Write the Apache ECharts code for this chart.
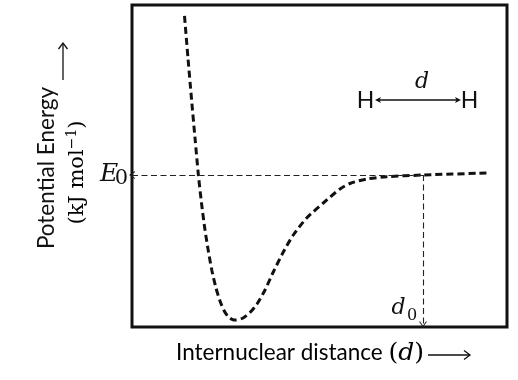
<!DOCTYPE html>
<html>
<head>
<meta charset="utf-8">
<script src="https://cdn.jsdelivr.net/npm/echarts@6/dist/echarts.min.js"></script>
<style>html,body{margin:0;padding:0;background:#fff;}#c{width:518px;height:380px;}</style>
</head>
<body>
<div id="c"></div>
<script>
// Internuclear distance (arbitrary units) and potential energy (arbitrary units)
const distance = [14.0, 14.93, 15.87, 16.8, 17.68, 18.53, 19.47, 20.4, 21.33, 22.4, 23.47, 24.53, 25.6, 26.67, 27.73, 29.6, 31.47, 33.33, 35.47, 37.68, 40.35, 43.01, 46.59, 51.01, 55.47, 58.13, 62.59, 67.92, 77.6, 94.67];
const energy   = [96.6, 83.5, 70.8, 58.7, 47.5, 38.5, 30.1, 23.3, 17.4, 12.1, 8.07, 5.12, 3.26, 2.39, 2.17, 2.8, 4.5, 7.14, 11.5, 17.08, 23.29, 28.57, 33.85, 38.51, 42.86, 44.57, 45.96, 46.68, 47.2, 47.83];
const E0 = 47.2;
const d0 = 77.6;
const xLabel = 'Internuclear distance ';
const yLabel = 'Potential Energy';
const yUnit = ['(kJ mol', '\u22121', ')'];

const curve = distance.map((d, i) => [d, energy[i]]);
const chevron = 'path://M0,10 L5,0 L10,10 L8.6,10 L5,2.6 L1.4,10 Z';

const SANS = 'Lato';
const SERIF = 'DejaVu Serif';

const chart = echarts.init(document.getElementById('c'), null, {renderer: 'canvas'});
chart.setOption({
  animation: false,
  backgroundColor: '#fff',
  grid: {left: 132, right: 11, top: 5, bottom: 53, show: true, borderColor: '#111', borderWidth: 3, backgroundColor: 'transparent'},
  xAxis: {type: 'value', min: 0, max: 100, axisLine: {show: false}, axisTick: {show: false}, axisLabel: {show: false}, splitLine: {show: false}},
  yAxis: {type: 'value', min: 0, max: 100, axisLine: {show: false}, axisTick: {show: false}, axisLabel: {show: false}, splitLine: {show: false}},
  series: [{
    type: 'line',
    data: curve,
    smooth: 0.25,
    symbol: 'none',
    lineStyle: {color: '#111', width: 3, type: [7, 4]},
    markLine: {
      silent: true,
      symbol: ['none', chevron],
      symbolSize: [8, 6],
      label: {show: false},
      lineStyle: {color: '#222', width: 1.1, type: [6, 3.5]},
      data: [
        [{coord: [d0, E0]}, {coord: [0, E0]}],
        [{coord: [d0, E0]}, {coord: [d0, 0.8]}]
      ]
    }
  }],
  graphic: [
    // E0 label
    {type: 'text', x: 109, y: 174, style: {text: 'E', font: 'italic 25px "' + SERIF + '"', fill: '#111', align: 'center', verticalAlign: 'middle'}},
    {type: 'text', x: 121.5, y: 178.5, style: {text: '0', font: '21px "' + SERIF + '"', fill: '#111', align: 'center', verticalAlign: 'middle'}},
    // d0 label
    {type: 'text', x: 398.5, y: 308, style: {text: 'd', font: 'italic 22px "' + SERIF + '"', fill: '#111', align: 'center', verticalAlign: 'middle'}},
    {type: 'text', x: 412, y: 316, style: {text: '0', font: '16px "' + SERIF + '"', fill: '#111', align: 'center', verticalAlign: 'middle'}},
    // H <-> H
    {type: 'text', x: 365.5, y: 100.5, style: {text: 'H', font: '23px "' + SANS + '"', fill: '#111', align: 'center', verticalAlign: 'middle'}},
    {type: 'text', x: 469.5, y: 100.5, style: {text: 'H', font: '23px "' + SANS + '"', fill: '#111', align: 'center', verticalAlign: 'middle'}},
    {type: 'text', x: 422, y: 82, style: {text: 'd', font: 'italic 22px "' + SERIF + '"', fill: '#111', align: 'center', verticalAlign: 'middle'}},
    {type: 'line', shape: {x1: 377, y1: 100, x2: 459, y2: 100}, style: {stroke: '#111', lineWidth: 1.3}},
    {type: 'polygon', shape: {points: [[375, 100], [381, 97], [379.5, 100], [381, 103]]}, style: {fill: '#111'}},
    {type: 'polygon', shape: {points: [[461, 100], [455, 97], [456.5, 100], [455, 103]]}, style: {fill: '#111'}},
    // x axis title
    {type: 'text', x: 176, y: 353, style: {
      text: '{a|' + xLabel + '}{p|(}{i|d}{p|)}',
      align: 'left', verticalAlign: 'middle',
      rich: {
        a: {fontFamily: SANS, fontSize: 22.5, color: '#111', lineHeight: 28},
        p: {fontFamily: SERIF, fontSize: 25, color: '#111', lineHeight: 28},
        i: {fontFamily: SERIF, fontSize: 25, fontStyle: 'italic', color: '#111', lineHeight: 28}
      }
    }},
    {type: 'line', shape: {x1: 428, y1: 355, x2: 470, y2: 355}, style: {stroke: '#111', lineWidth: 1.3}},
    {type: 'polyline', shape: {points: [[464, 350.5], [470, 355], [464, 359.5]]}, style: {stroke: '#111', lineWidth: 1.3, fill: null}},
    // y axis title
    {type: 'text', x: 47, y: 168, rotation: Math.PI / 2, style: {text: yLabel, font: '22.5px "' + SANS + '"', fill: '#111', align: 'center', verticalAlign: 'middle'}},
    {type: 'text', x: 78, y: 172.5, rotation: Math.PI / 2, style: {
      text: '{a|' + yUnit[0] + '}{s|' + yUnit[1] + '}{a|' + yUnit[2] + '}',
      align: 'center', verticalAlign: 'middle',
      rich: {
        a: {fontFamily: SERIF, fontSize: 21, color: '#111', lineHeight: 26},
        s: {fontFamily: SERIF, fontSize: 14, color: '#111', lineHeight: 16, verticalAlign: 'top'}
      }
    }},
    {type: 'line', shape: {x1: 63, y1: 80, x2: 63, y2: 43}, style: {stroke: '#111', lineWidth: 1.3}},
    {type: 'polyline', shape: {points: [[58.5, 49], [63, 43], [67.5, 49]]}, style: {stroke: '#111', lineWidth: 1.3, fill: null}}
  ]
});
</script>
</body>
</html>
